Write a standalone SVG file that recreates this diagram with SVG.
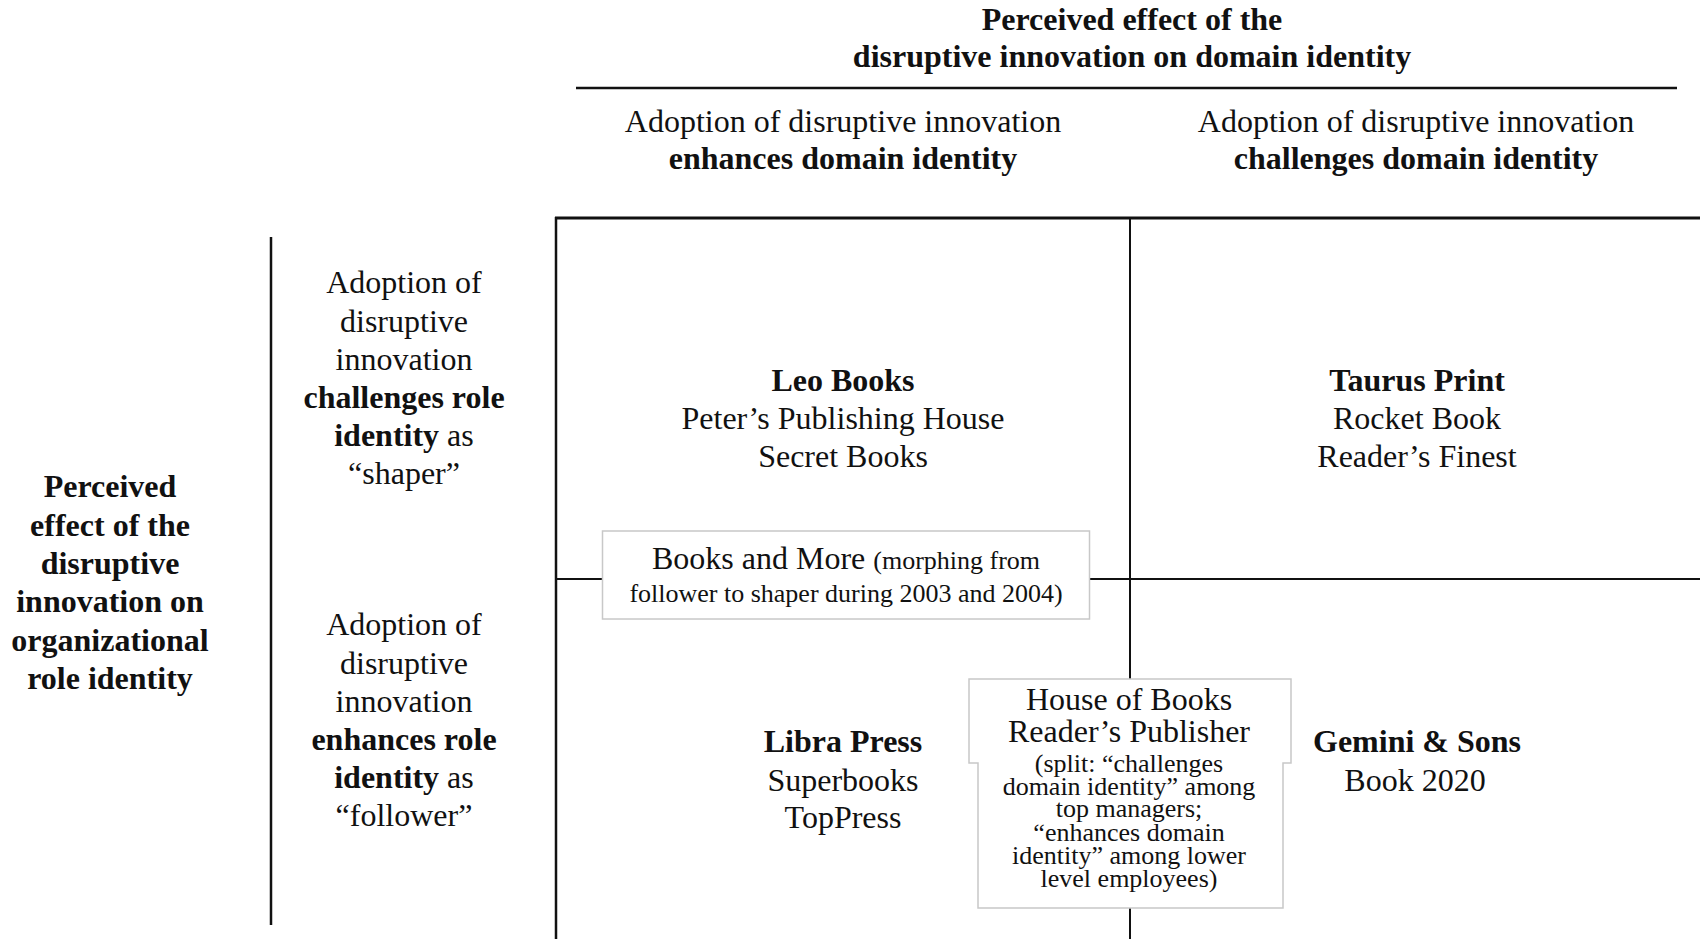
<svg xmlns="http://www.w3.org/2000/svg" width="1700" height="939" viewBox="0 0 1700 939">
<style>
text{font-family:"Liberation Serif","Times New Roman",serif;fill:#111;text-anchor:middle;font-size:32px}
.b{font-weight:bold}
.s{font-size:26px}
.ln{stroke:#111;fill:none}
.box{fill:#fff;stroke:#c8c8c8;stroke-width:1.5}
</style>
<g id="connectors">
<line class="ln" x1="576" y1="88" x2="1677" y2="88" stroke-width="2.5"/>
<line class="ln" x1="271" y1="237" x2="271" y2="925" stroke-width="2.5"/>
<line class="ln" x1="555" y1="218" x2="1700" y2="218" stroke-width="3"/>
<line class="ln" x1="556" y1="217" x2="556" y2="939" stroke-width="2.5"/>
<line class="ln" x1="1130" y1="218" x2="1130" y2="939" stroke-width="2"/>
<line class="ln" x1="556" y1="579" x2="1700" y2="579" stroke-width="2"/>
</g>
<g id="title">
<text class="b" x="1132" y="30">Perceived effect of the</text>
<text class="b" x="1132" y="67">disruptive innovation on domain identity</text>
</g>
<g id="col-enhances">
<text x="843" y="132">Adoption of disruptive innovation</text>
<text class="b" x="843" y="169">enhances domain identity</text>
</g>
<g id="col-challenges">
<text x="1416" y="132">Adoption of disruptive innovation</text>
<text class="b" x="1416" y="169">challenges domain identity</text>
</g>
<g id="row-axis">
<text class="b" x="110" y="497">Perceived</text>
<text class="b" x="110" y="535.5">effect of the</text>
<text class="b" x="110" y="574">disruptive</text>
<text class="b" x="110" y="612">innovation on</text>
<text class="b" x="110" y="651">organizational</text>
<text class="b" x="110" y="689">role identity</text>
</g>
<g id="row-shaper">
<text x="404" y="293">Adoption of</text>
<text x="404" y="331.5">disruptive</text>
<text x="404" y="370">innovation</text>
<text class="b" x="404" y="408">challenges role</text>
<text x="404" y="446"><tspan class="b">identity</tspan> as</text>
<text x="404" y="484">“shaper”</text>
</g>
<g id="row-follower">
<text x="404" y="635">Adoption of</text>
<text x="404" y="673.5">disruptive</text>
<text x="404" y="712">innovation</text>
<text class="b" x="404" y="750">enhances role</text>
<text x="404" y="788"><tspan class="b">identity</tspan> as</text>
<text x="404" y="826">“follower”</text>
</g>
<g id="cell-tl">
<text class="b" x="843" y="391">Leo Books</text>
<text x="843" y="429">Peter’s Publishing House</text>
<text x="843" y="467">Secret Books</text>
</g>
<g id="cell-tr">
<text class="b" x="1417" y="391">Taurus Print</text>
<text x="1417" y="429">Rocket Book</text>
<text x="1417" y="467">Reader’s Finest</text>
</g>
<g id="cell-bl">
<text class="b" x="843" y="752">Libra Press</text>
<text x="843" y="791">Superbooks</text>
<text x="843" y="828">TopPress</text>
</g>
<g id="cell-br">
<text class="b" x="1417" y="752">Gemini &amp; Sons</text>
<text x="1415" y="791">Book 2020</text>
</g>
<g id="books-and-more">
<rect class="box" x="602.5" y="531" width="487" height="88"/>
<text x="846" y="569">Books and More <tspan class="s">(morphing from</tspan></text>
<text class="s" x="846" y="602">follower to shaper during 2003 and 2004)</text>
</g>
<g id="house-of-books">
<polygon class="box" points="969,679 1291,679 1291,763 1283,763 1283,908 978,908 978,763 969,763"/>
<text x="1129" y="710">House of Books</text>
<text x="1129" y="742">Reader’s Publisher</text>
<text class="s" x="1129" y="772">(split: “challenges</text>
<text class="s" x="1129" y="795">domain identity” among</text>
<text class="s" x="1129" y="817">top managers;</text>
<text class="s" x="1129" y="841">“enhances domain</text>
<text class="s" x="1129" y="864">identity” among lower</text>
<text class="s" x="1129" y="887">level employees)</text>
</g>
</svg>
